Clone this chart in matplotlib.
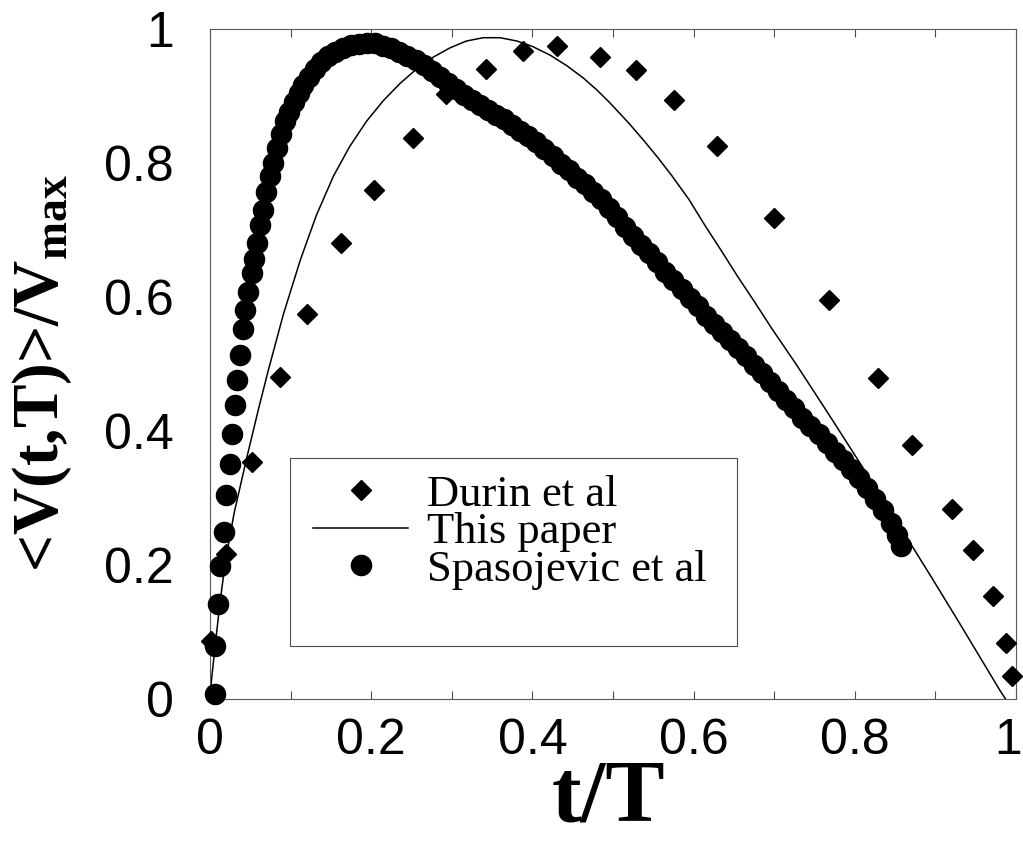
import matplotlib
matplotlib.use("Agg")
import matplotlib.pyplot as plt
import matplotlib.transforms as mtransforms
from matplotlib.legend_handler import HandlerLine2D
from matplotlib.patches import Rectangle
import numpy as np

# ---- data ----
durin_x = [0.001, 0.020, 0.052, 0.087, 0.120, 0.163, 0.203, 0.252, 0.293, 0.343,
           0.388, 0.431, 0.484, 0.528, 0.576, 0.629, 0.700, 0.768, 0.829, 0.871,
           0.920, 0.947, 0.972, 0.987, 0.995]
durin_y = [0.087, 0.217, 0.354, 0.480, 0.574, 0.680, 0.760, 0.838, 0.903, 0.941,
           0.967, 0.975, 0.958, 0.939, 0.894, 0.825, 0.718, 0.596, 0.479, 0.379,
           0.284, 0.222, 0.154, 0.084, 0.034]

paper_x = [0.0, 0.002, 0.006, 0.012, 0.019, 0.030, 0.046, 0.060, 0.072, 0.091,
           0.112, 0.132, 0.153, 0.173, 0.194, 0.215, 0.236, 0.256, 0.277, 0.298,
           0.318, 0.339, 0.360, 0.381, 0.400, 0.422, 0.443, 0.463, 0.480, 0.496,
           0.520, 0.540, 0.557, 0.573, 0.594, 0.614, 0.635, 0.655, 0.676, 0.697,
           0.727, 0.766, 0.799, 0.832, 0.864, 0.897, 0.929, 0.955, 0.970, 0.980, 0.987]
paper_y = [0.0, 0.030, 0.075, 0.140, 0.205, 0.278, 0.362, 0.432, 0.489, 0.574,
           0.655, 0.722, 0.780, 0.824, 0.862, 0.893, 0.919, 0.940, 0.958, 0.972,
           0.982, 0.987, 0.987, 0.982, 0.974, 0.961, 0.945, 0.927, 0.909, 0.890,
           0.859, 0.831, 0.806, 0.781, 0.746, 0.707, 0.668, 0.630, 0.592, 0.553,
           0.500, 0.428, 0.366, 0.304, 0.242, 0.178, 0.115, 0.063, 0.033, 0.013, 0.0]

spas_x = [0.006, 0.006, 0.010, 0.012, 0.017, 0.020, 0.025, 0.027, 0.031, 0.034,
          0.037, 0.041, 0.043, 0.047, 0.052, 0.055,
          0.058, 0.062, 0.066, 0.070, 0.074, 0.078, 0.083, 0.088, 0.093, 0.098,
          0.104, 0.110, 0.116, 0.123, 0.130, 0.138, 0.146, 0.155, 0.165, 0.175,
          0.185, 0.195, 0.205, 0.215, 0.225, 0.235, 0.245, 0.255, 0.265, 0.275,
          0.285, 0.295, 0.305, 0.315, 0.325, 0.335, 0.345, 0.355, 0.365, 0.375,
          0.385, 0.395, 0.405, 0.415, 0.425, 0.435, 0.445, 0.455, 0.465, 0.475,
          0.485, 0.495, 0.505, 0.515, 0.525, 0.535, 0.545, 0.555, 0.565, 0.575,
          0.585, 0.595, 0.605, 0.615, 0.625, 0.635, 0.645, 0.655, 0.665, 0.675,
          0.685, 0.695, 0.705, 0.715, 0.725, 0.735, 0.745, 0.755, 0.765, 0.775,
          0.785, 0.795, 0.805, 0.815, 0.825, 0.835, 0.845, 0.852, 0.857]
spas_y = [0.007, 0.079, 0.142, 0.199, 0.249, 0.304, 0.351, 0.396, 0.439, 0.476,
          0.514, 0.552, 0.581, 0.608, 0.636, 0.656,
          0.681, 0.708, 0.730, 0.757, 0.780, 0.800, 0.823, 0.843, 0.862, 0.876,
          0.891, 0.904, 0.917, 0.929, 0.940, 0.951, 0.959, 0.966, 0.972, 0.976,
          0.978, 0.979, 0.979, 0.975, 0.971, 0.965, 0.959, 0.953, 0.946, 0.937,
          0.929, 0.919, 0.910, 0.902, 0.894, 0.886, 0.879, 0.872, 0.865, 0.856,
          0.848, 0.840, 0.831, 0.821, 0.810, 0.799, 0.789, 0.778, 0.768, 0.757,
          0.746, 0.733, 0.719, 0.705, 0.691, 0.678, 0.665, 0.652, 0.638, 0.625,
          0.612, 0.599, 0.586, 0.572, 0.560, 0.548, 0.536, 0.524, 0.512, 0.499,
          0.486, 0.473, 0.460, 0.447, 0.434, 0.420, 0.408, 0.395, 0.382, 0.369,
          0.356, 0.343, 0.330, 0.315, 0.299, 0.282, 0.262, 0.245, 0.229]

x_ticks = [0, 0.2, 0.4, 0.6, 0.8, 1]
x_ticklabels = ["0", "0.2", "0.4", "0.6", "0.8", "1"]
y_ticks = [0, 0.2, 0.4, 0.6, 0.8, 1]
y_ticklabels = ["0", "0.2", "0.4", "0.6", "0.8", "1"]

plt.rcParams['mathtext.fontset'] = 'custom'
plt.rcParams['mathtext.rm'] = 'Liberation Serif:bold'
plt.rcParams['mathtext.it'] = 'Liberation Serif:bold'
plt.rcParams['mathtext.bf'] = 'Liberation Serif:bold'

W, H = 1023, 843
fig = plt.figure(figsize=(W / 100, H / 100), dpi=100)
ax = fig.add_axes([210 / W, 1 - 699 / H, (1016 - 210) / W, (699 - 29) / H])

ax.plot(durin_x, durin_y, linestyle='none', marker='D', ms=10, color='black',
        clip_on=False, label='Durin et al', zorder=3)
ax.plot(paper_x, paper_y, '-', color='black', lw=1.1, label='This paper', zorder=2)
ax.plot(spas_x, spas_y, linestyle='none', marker='o', ms=14.5, color='black',
        clip_on=False, label='Spasojevic et al', zorder=4)

ax.set_xlim(0, 1)
ax.set_ylim(0, 1)
ax.set_xticks(x_ticks)
ax.set_xticklabels(x_ticklabels)
ax.set_yticks(y_ticks)
ax.set_yticklabels(y_ticklabels)
ax.set_xticks(np.arange(0.1, 1.0, 0.2), minor=True)
for lab in ax.get_xticklabels() + ax.get_yticklabels():
    lab.set_fontfamily('Liberation Sans')
    lab.set_fontsize(36)
ax.tick_params(axis='x', which='both', direction='in', length=6, width=0.8,
               top=True, bottom=True, pad=14, color='0.3')
ax.tick_params(axis='y', which='both', direction='in', length=0, pad=26)

# keep the last x tick label ("1") inside the figure edge
last_lab = ax.xaxis.get_major_ticks()[-1].label1
last_lab.set_transform(last_lab.get_transform() +
                       mtransforms.ScaledTranslation(-8 / 100, 0, fig.dpi_scale_trans))

for sp in ax.spines.values():
    sp.set_color('0.35')
    sp.set_linewidth(0.8)

ax.set_xlabel('t/T', fontfamily='Liberation Serif', fontweight='bold', fontsize=64)
ax.xaxis.set_label_coords(0.494, -0.150)
ax.xaxis.label.set_va('center')
ax.set_ylabel(r'<V(t,T)>/V$_{\mathrm{max}}$', fontfamily='Liberation Serif',
              fontweight='bold', fontsize=47)
ax.yaxis.set_label_coords(-0.208, 0.487)
ax.yaxis.label.set_va('center')


class EndMarkerHandler(HandlerLine2D):
    def get_xdata(self, legend, xdescent, ydescent, width, height, fontsize):
        xdata = np.array([-xdescent, -xdescent + width], float)
        xdata_marker = np.array([-xdescent + width], float)
        return xdata, xdata_marker


# legend frame (box is taller than the entries, as in the reference)
ax.add_patch(Rectangle((0.0993, 0.079), 0.555, 0.281, transform=ax.transAxes,
                       fill=True, facecolor='white', edgecolor='0.3', lw=0.8,
                       zorder=5, clip_on=False))
leg = ax.legend(loc='upper left', bbox_to_anchor=(0.128, 0.335),
                prop={'family': 'Liberation Serif', 'size': 32},
                frameon=False, borderpad=0, borderaxespad=0,
                labelspacing=-0.06, handlelength=2.14, handletextpad=0.43,
                numpoints=1,
                handler_map={plt.Line2D: EndMarkerHandler(numpoints=1)})
leg.set_zorder(6)

fig.savefig('out.png', dpi=100)
